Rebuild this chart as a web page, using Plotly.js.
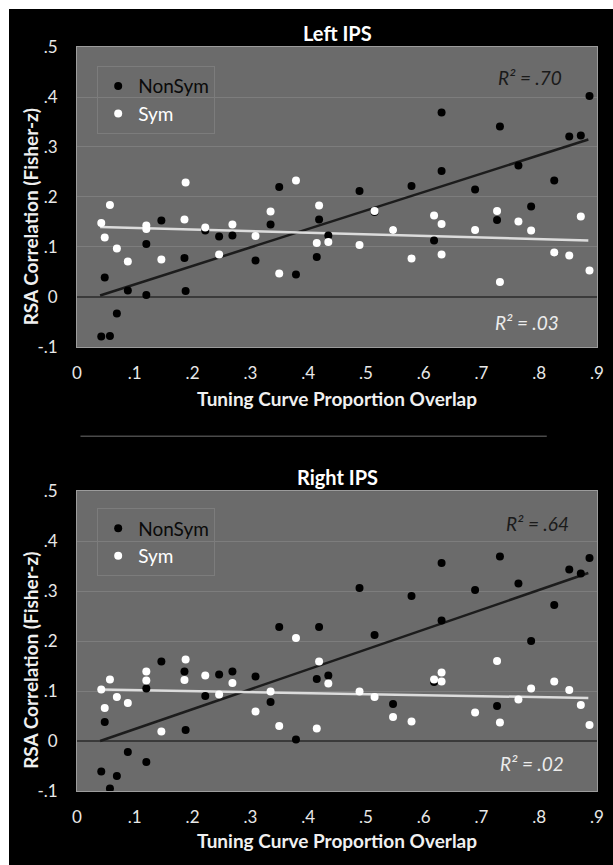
<!DOCTYPE html>
<html>
<head>
<meta charset="utf-8">
<script src="https://cdn.plot.ly/plotly-3.0.1.min.js"></script>
<style>
  html, body { margin: 0; padding: 0; background: #ffffff; }
  #chart { position: absolute; left: 9px; top: 9px; width: 604px; height: 856px; }
</style>
</head>
<body>
<div id="chart"></div>
<script>
// Shared x values: tuning curve proportion overlap
const overlap = [0.042, 0.048, 0.057, 0.069, 0.088, 0.120, 0.120, 0.146, 0.186, 0.188,
                 0.222, 0.246, 0.269, 0.309, 0.335, 0.350, 0.379, 0.415, 0.419, 0.435,
                 0.489, 0.515, 0.547, 0.579, 0.618, 0.631, 0.631, 0.689, 0.727, 0.732,
                 0.764, 0.786, 0.826, 0.852, 0.872, 0.887];

// Left IPS
const leftNonSym = [-0.079, 0.039, -0.078, -0.033, 0.013, 0.106, 0.004, 0.153, 0.078, 0.012,
                    0.133, 0.121, 0.123, 0.073, 0.145, 0.220, 0.045, 0.080, 0.155, 0.123,
                    0.212, 0.170, 0.134, 0.222, 0.113, 0.369, 0.252, 0.215, 0.154, 0.341,
                    0.263, 0.181, 0.233, 0.321, 0.323, 0.402];
const leftSym = [0.148, 0.119, 0.184, 0.097, 0.071, 0.143, 0.136, 0.075, 0.155, 0.229,
                 0.139, 0.085, 0.145, 0.122, 0.171, 0.047, 0.233, 0.108, 0.183, 0.110,
                 0.104, 0.172, 0.134, 0.077, 0.163, 0.146, 0.085, 0.134, 0.172, 0.030,
                 0.151, 0.133, 0.089, 0.083, 0.161, 0.053];

// Right IPS
const rightNonSym = [-0.061, 0.038, -0.095, -0.070, -0.022, 0.105, -0.042, 0.159, 0.139, 0.022,
                     0.090, 0.133, 0.139, 0.129, 0.078, 0.228, 0.003, 0.124, 0.228, 0.131,
                     0.306, 0.212, 0.074, 0.290, 0.118, 0.356, 0.241, 0.302, 0.070, 0.369,
                     0.315, 0.200, 0.272, 0.343, 0.335, 0.366];
const rightSym = [0.103, 0.066, 0.123, 0.088, 0.076, 0.139, 0.121, 0.019, 0.122, 0.163,
                  0.131, 0.093, 0.116, 0.059, 0.099, 0.030, 0.206, 0.025, 0.159, 0.115,
                  0.099, 0.088, 0.048, 0.039, 0.123, 0.137, 0.119, 0.057, 0.160, 0.037,
                  0.083, 0.105, 0.119, 0.102, 0.072, 0.032];

// Regression line end points
const fitX = [0.04, 0.885];
const leftFitNonSym = [0.003, 0.315];
const leftFitSym = [0.140, 0.113];
const rightFitNonSym = [0.000, 0.336];
const rightFitSym = [0.103, 0.086];

const r2Labels = ['R² = .70', 'R² = .03', 'R² = .64', 'R² = .02'];
const panelTitles = ['Left IPS', 'Right IPS'];
const xTitle = 'Tuning Curve Proportion Overlap';
const yTitle = 'RSA Correlation (Fisher-z)';
const xTickVals = [0, 0.1, 0.2, 0.3, 0.4, 0.5, 0.6, 0.7, 0.8, 0.9];
const xTickText = ['0', '.1', '.2', '.3', '.4', '.5', '.6', '.7', '.8', '.9'];
const yTickVals = [-0.1, 0, 0.1, 0.2, 0.3, 0.4, 0.5];
const yTickText = ['-.1', '0', '.1', '.2', '.3', '.4', '.5'];

const FONT = 'Lato, "Open Sans", sans-serif';
const PLOT_BG = '#6b6b6b';
const MS = 8;

function fitLine(y, color, xa, ya) {
  return { x: fitX, y: y, xaxis: xa, yaxis: ya, mode: 'lines', type: 'scatter',
           line: { color: color, width: 2.5 }, showlegend: false, hoverinfo: 'skip' };
}
function pts(y, color, name, xa, ya, legend, show) {
  return { x: overlap, y: y, xaxis: xa, yaxis: ya, mode: 'markers', type: 'scatter',
           name: name, legend: legend, showlegend: show,
           marker: { color: color, size: MS, line: { width: 0 } } };
}

const nonSymName = '<span style="color:#0a0a0a">NonSym</span>';
const symName = '<span style="color:#ffffff">Sym</span>';

const data = [
  fitLine(leftFitNonSym, '#1c1c1c', 'x', 'y'),
  fitLine(leftFitSym, '#dcdcdc', 'x', 'y'),
  pts(leftNonSym, '#000000', nonSymName, 'x', 'y', 'legend', true),
  pts(leftSym, '#ffffff', symName, 'x', 'y', 'legend', true),
  fitLine(rightFitNonSym, '#1c1c1c', 'x2', 'y2'),
  fitLine(rightFitSym, '#dcdcdc', 'x2', 'y2'),
  pts(rightNonSym, '#000000', nonSymName, 'x2', 'y2', 'legend2', true),
  pts(rightSym, '#ffffff', symName, 'x2', 'y2', 'legend2', true)
];

function xAxis(anchor) {
  return { domain: [0, 1], anchor: anchor, range: [0, 0.9], tickvals: xTickVals, ticktext: xTickText,
           showgrid: false, zeroline: false, showline: true, mirror: true, linecolor: '#9c9c9c', linewidth: 1,
           ticks: '', ticklabelstandoff: 11, tickfont: { family: FONT, size: 17, color: '#e8e8e8' }, fixedrange: true };
}
function yAxis(anchor, domain) {
  return { domain: domain, anchor: anchor, range: [-0.1, 0.5], tickvals: yTickVals, ticktext: yTickText,
           showgrid: true, gridcolor: '#7d7d7d', gridwidth: 1,
           zeroline: true, zerolinecolor: '#3a3a3a', zerolinewidth: 1.5,
           showline: true, mirror: true, linecolor: '#9c9c9c', linewidth: 1,
           ticks: '', ticklabelstandoff: 15, tickfont: { family: FONT, size: 17, color: '#e8e8e8' }, fixedrange: true };
}

const boldWhite = { family: FONT, size: 20, color: '#ffffff', weight: 'bold' };
const boldAxis = { family: FONT, size: 19, color: '#f0f0f0', weight: 'bold' };

const annotations = [
  { text: panelTitles[0], xref: 'paper', yref: 'paper', x: 0.5, y: 1.0188, showarrow: false, xanchor: 'center', yanchor: 'middle', font: boldWhite },
  { text: panelTitles[1], xref: 'paper', yref: 'paper', x: 0.5, y: 0.422, showarrow: false, xanchor: 'center', yanchor: 'middle', font: boldWhite },
  { text: xTitle, xref: 'paper', yref: 'paper', x: 0.5, y: 0.5278, showarrow: false, xanchor: 'center', yanchor: 'middle', font: boldAxis },
  { text: xTitle, xref: 'paper', yref: 'paper', x: 0.5, y: -0.0663, showarrow: false, xanchor: 'center', yanchor: 'middle', font: boldAxis },
  { text: yTitle, xref: 'paper', yref: 'paper', x: -0.0893, y: 0.7718, textangle: -90, showarrow: false, xanchor: 'center', yanchor: 'middle', font: boldAxis },
  { text: yTitle, xref: 'paper', yref: 'paper', x: -0.0893, y: 0.1757, textangle: -90, showarrow: false, xanchor: 'center', yanchor: 'middle', font: boldAxis },
  { text: r2Labels[0], xref: 'x', yref: 'y', x: 0.784, y: 0.44, showarrow: false, font: { family: FONT, size: 19, color: '#1a1a1a', style: 'italic' } },
  { text: r2Labels[1], xref: 'x', yref: 'y', x: 0.778, y: -0.052, showarrow: false, font: { family: FONT, size: 19, color: '#ececec', style: 'italic' } },
  { text: r2Labels[2], xref: 'x2', yref: 'y2', x: 0.797, y: 0.436, showarrow: false, font: { family: FONT, size: 19, color: '#1a1a1a', style: 'italic' } },
  { text: r2Labels[3], xref: 'x2', yref: 'y2', x: 0.787, y: -0.045, showarrow: false, font: { family: FONT, size: 19, color: '#ececec', style: 'italic' } }
];

const legendStyle = (y) => ({
  x: 0.0388, y: y, xanchor: 'left', yanchor: 'top', bgcolor: 'rgba(0,0,0,0)',
  bordercolor: '#7c7c7c', borderwidth: 1, font: { family: FONT, size: 19, color: '#0a0a0a' },
  itemclick: false, itemdoubleclick: false, tracegroupgap: 0, itemwidth: 30
});

const layout = {
  width: 604, height: 856,
  paper_bgcolor: '#000000', plot_bgcolor: PLOT_BG,
  margin: { l: 67.5, r: 15.7, t: 37.7, b: 74.3 },
  showlegend: true,
  legend: legendStyle(0.9744),
  legend2: legendStyle(0.38),
  xaxis: xAxis('y'),
  yaxis: yAxis('x', [0.5968, 1]),
  xaxis2: xAxis('y2'),
  yaxis2: yAxis('x2', [0, 0.4032]),
  annotations: annotations,
  shapes: [
    { type: 'line', xref: 'paper', yref: 'paper', x0: 0.0067, x1: 0.9034, y0: 0.4767, y1: 0.4767,
      line: { color: '#4a4a4a', width: 1.5 } }
  ],
  hovermode: false
};

Plotly.newPlot('chart', data, layout, { displayModeBar: false, staticPlot: true });
</script>
</body>
</html>
